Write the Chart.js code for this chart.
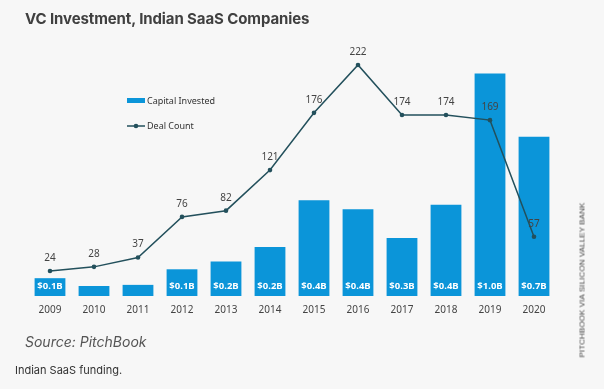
<!DOCTYPE html>
<html>
<head>
<meta charset="utf-8">
<script src="https://cdn.jsdelivr.net/npm/chart.js@4/dist/chart.umd.min.js"></script>
<style>
  html, body { margin: 0; padding: 0; background: #f7f7f7; }
  #wrap { position: relative; width: 604px; height: 389px; overflow: hidden; background: #f7f7f7; }
  #c { position: absolute; left: 0; top: 0; }
  .title { position: absolute; left: 25px; top: 9px; font: bold 15px Inter, Roboto, sans-serif; color: #404040; letter-spacing: -0.1px; }
  .source { position: absolute; left: 25px; top: 333px; font: italic 14px Inter, Roboto, sans-serif; color: #555; }
  .caption { position: absolute; left: 15px; top: 363px; font: 11px Inter, Roboto, sans-serif; color: #333; }
  .vert { position: absolute; left: 582px; top: 280px; transform: translate(-50%, -50%) rotate(-90deg); white-space: nowrap; font: 400 8px "Liberation Sans", Arial, sans-serif; color: #444; letter-spacing: 0.1px; }
</style>
</head>
<body>
<div id="wrap">
  <canvas id="c" width="604" height="389"></canvas>
  <div class="title">VC Investment, Indian SaaS Companies</div>
  <div class="source">Source: PitchBook</div>
  <div class="caption">Indian SaaS funding.</div>
  <div class="vert">PITCHBOOK VIA SILICON VALLEY BANK</div>
</div>
<script>
const years = ["2009","2010","2011","2012","2013","2014","2015","2016","2017","2018","2019","2020"];
const capitalInvested = [0.08, 0.045, 0.05, 0.12, 0.155, 0.22, 0.43, 0.39, 0.26, 0.41, 1.0, 0.715];
const capitalLabels = ["$0.1B","","","$0.1B","$0.2B","$0.2B","$0.4B","$0.4B","$0.3B","$0.4B","$1.0B","$0.7B"];
const dealCount = [24, 28, 37, 76, 82, 121, 176, 222, 174, 174, 169, 57];

const BAR_COLOR = "#0b95d9";
const LINE_COLOR = "#23505c";
const FONT = "'Noto Sans', 'Open Sans', sans-serif";

const labelPlugin = {
  id: "labels",
  afterDatasetsDraw(chart) {
    const ctx = chart.ctx;
    ctx.save();
    const barMeta = chart.getDatasetMeta(0);
    ctx.font = "bold 9.5px " + FONT;
    ctx.fillStyle = "#ffffff";
    ctx.textAlign = "center";
    ctx.textBaseline = "middle";
    barMeta.data.forEach((el, i) => {
      if (capitalLabels[i]) ctx.fillText(capitalLabels[i], el.x, el.base - 10);
    });
    const lineMeta = chart.getDatasetMeta(1);
    ctx.font = "10px " + FONT;
    ctx.fillStyle = "#444";
    lineMeta.data.forEach((el, i) => {
      ctx.fillText(String(dealCount[i]), el.x, el.y - 13);
    });
    ctx.fillStyle = BAR_COLOR;
    ctx.fillRect(127, 98, 18, 5);
    ctx.strokeStyle = LINE_COLOR;
    ctx.lineWidth = 1.5;
    ctx.beginPath(); ctx.moveTo(127, 126); ctx.lineTo(145, 126); ctx.stroke();
    ctx.fillStyle = LINE_COLOR;
    ctx.beginPath(); ctx.arc(136, 126, 2.3, 0, Math.PI * 2); ctx.fill();
    ctx.font = "9px " + FONT;
    ctx.fillStyle = "#333";
    ctx.textAlign = "left";
    ctx.fillText("Capital Invested", 147, 101);
    ctx.fillText("Deal Count", 147, 126);
    ctx.restore();
  }
};

new Chart(document.getElementById("c"), {
  data: {
    labels: years,
    datasets: [
      {
        type: "bar",
        label: "Capital Invested",
        data: capitalInvested,
        backgroundColor: BAR_COLOR,
        yAxisID: "yBar",
        categoryPercentage: 1.0,
        barPercentage: 0.7,
        order: 2
      },
      {
        type: "line",
        label: "Deal Count",
        data: dealCount,
        borderColor: LINE_COLOR,
        backgroundColor: LINE_COLOR,
        borderWidth: 1.5,
        pointRadius: 2.3,
        pointBackgroundColor: LINE_COLOR,
        pointBorderWidth: 0,
        tension: 0,
        yAxisID: "yLine",
        order: 1
      }
    ]
  },
  options: {
    responsive: false,
    animation: false,
    layout: { padding: { left: 28, right: 48, top: 40, bottom: 65 } },
    plugins: { legend: { display: false }, tooltip: { enabled: false }, title: { display: false } },
    scales: {
      x: {
        grid: { display: false, drawTicks: false },
        border: { display: false },
        ticks: { color: "#444", font: { size: 10, family: FONT }, padding: 8 }
      },
      yBar: { display: false, min: 0, max: 1.15 },
      yLine: { display: false, min: 0, max: 246 }
    }
  },
  plugins: [labelPlugin]
});
</script>
</body>
</html>
